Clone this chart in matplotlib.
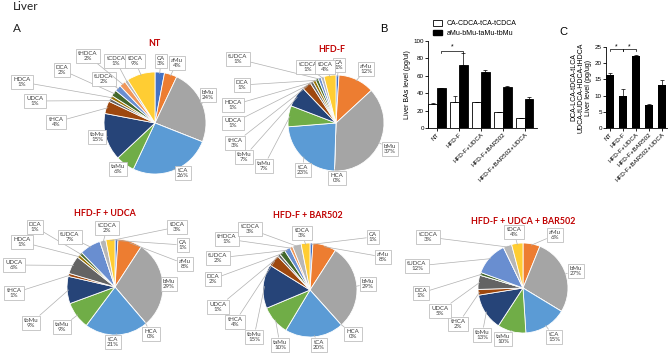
import numpy as np
import matplotlib
matplotlib.use('Agg')
import matplotlib.pyplot as plt
from matplotlib.patches import Patch

W, H = 669, 355

# bile acid species, in the order Excel draws the slices (clockwise from 12 o'clock)
species = ['CA', 'aMu', 'bMu', 'HCA', 'tCA', 'taMu', 'tbMu', 'tHCA', 'UDCA',
           'HDCA', 'DCA', 'tUDCA', 'tHDCA', 'tCDCA', 'tDCA']
species_colors = ['#4472C4', '#ED7D31', '#A5A5A5', '#FFC000', '#5B9BD5', '#70AD47',
                  '#264478', '#9E480E', '#636363', '#997300', '#43682B', '#698ED0',
                  '#F1975A', '#B7B7B7', '#FFCD33']

# % composition per group
nt_pct = [3, 4, 24, 0, 26, 6, 15, 4, 1, 1, 2, 2, 2, 1, 9]
hfd_pct = [1, 12, 37, 0, 23, 7, 7, 3, 1, 1, 1, 1, 0, 1, 4]
hfd_udca_pct = [1, 8, 29, 0, 21, 9, 9, 1, 6, 1, 1, 7, 0, 2, 3]
hfd_bar_pct = [1, 8, 29, 0, 20, 10, 15, 4, 1, 0, 2, 2, 1, 3, 3]
hfd_udca_bar_pct = [0, 6, 27, 0, 15, 10, 13, 2, 5, 0, 1, 12, 0, 3, 4]

# bar panels
groups = ['NT', 'HFD-F', 'HFD-F+UDCA', 'HFD-F+BAR502', 'HFD-F+BAR502+UDCA']
primary = [28, 29.5, 29.5, 18.5, 11]
primary_err = [0.8, 7.5, 0.8, 0.4, 0.6]
muricholic = [45.5, 72, 64.5, 47.5, 33.5]
muricholic_err = [1.0, 14, 2.0, 1.3, 2.5]
secondary = [16.3, 10, 22.2, 7.2, 13.3]
secondary_err = [0.6, 2.0, 0.3, 0.15, 1.5]

PIE_FONT = 'Lato'
BAR_FONT = 'Liberation Sans'

fig = plt.figure(figsize=(W / 100, H / 100), dpi=100)
ov = fig.add_axes([0, 0, 1, 1])


def py(y):
    return H - y


# label box centres in pixels, per pie
pies = [
    ('NT', nt_pct, (155, 123, 51), (154, 43), {
        'CA': (161, 61), 'aMu': (177, 63), 'bMu': (208, 95), 'tCA': (183, 173),
        'taMu': (118, 169), 'tbMu': (97, 137), 'tHCA': (56, 122), 'UDCA': (35, 101),
        'HDCA': (22, 82), 'DCA': (62, 70), 'tUDCA': (104, 79), 'tHDCA': (88, 56),
        'tCDCA': (116, 61), 'tDCA': (135, 61)}),
    ('HFD-F', hfd_pct, (336, 123, 48), (332, 50), {
        'CA': (339, 65), 'aMu': (366, 69), 'bMu': (390, 149), 'HCA': (337, 178),
        'tCA': (303, 170), 'taMu': (264, 166), 'tbMu': (244, 157), 'tHCA': (235, 143),
        'UDCA': (233, 123), 'HDCA': (233, 105), 'DCA': (242, 85), 'tUDCA': (238, 59),
        'tCDCA': (308, 67), 'tDCA': (325, 67)}),
    ('HFD-F + UDCA', hfd_udca_pct, (115, 287, 48), (105, 213), {
        'DCA': (35, 227), 'HDCA': (22, 242), 'tUDCA': (70, 237), 'tCDCA': (107, 228),
        'tDCA': (177, 227), 'CA': (183, 245), 'aMu': (185, 264), 'bMu': (169, 284),
        'HCA': (151, 334), 'tCA': (113, 342), 'taMu': (62, 327), 'tbMu': (31, 323),
        'tHCA': (14, 293), 'UDCA': (14, 265)}),
    ('HFD-F + BAR502', hfd_bar_pct, (310, 290, 47), (308, 216), {
        'tCDCA': (250, 229), 'tHDCA': (227, 239), 'tUDCA': (218, 258), 'DCA': (213, 279),
        'UDCA': (218, 307), 'tHCA': (235, 322), 'tbMu': (254, 337), 'taMu': (280, 345),
        'tDCA': (302, 233), 'CA': (373, 237), 'aMu': (383, 257), 'bMu': (368, 284),
        'HCA': (353, 334), 'tCA': (319, 345)}),
    ('HFD-F + UDCA + BAR502', hfd_udca_bar_pct, (523, 288, 45), (523, 221), {
        'tCDCA': (428, 237), 'tUDCA': (417, 266), 'DCA': (421, 293), 'UDCA': (440, 311),
        'tHCA': (458, 324), 'tbMu': (482, 335), 'taMu': (503, 339), 'tCA': (554, 337),
        'bMu': (576, 271), 'aMu': (555, 235), 'tDCA': (514, 232)}),
]

for title, pct, (cx, cy, r), (tx, ty), label_pos in pies:
    vals = np.array(pct, dtype=float)
    ov.pie(vals, colors=species_colors, startangle=90, counterclock=False,
           center=(cx, py(cy)), radius=r, frame=True,
           wedgeprops=dict(edgecolor='white', linewidth=0.6))
    ov.text(tx, py(ty), title, ha='center', va='center', color='#C00000',
            fontsize=6.4, fontweight='bold', family=PIE_FONT)

    # mid angle of each slice, Excel style (clockwise from top)
    frac = vals / vals.sum()
    edges = np.concatenate([[0], np.cumsum(frac)])
    mids = (edges[:-1] + edges[1:]) / 2
    for i, name in enumerate(species):
        if name not in label_pos:
            continue
        ang = np.pi / 2 - 2 * np.pi * mids[i]
        ex = cx + r * 0.97 * np.cos(ang)
        ey = py(cy) + r * 0.97 * np.sin(ang)
        lx, ly = label_pos[name]
        ov.annotate(f'{name}\n{pct[i]:g}%', xy=(ex, ey), xytext=(lx, py(ly)),
                    ha='center', va='center', fontsize=4.4, color='#404040',
                    family=PIE_FONT, linespacing=1.15,
                    bbox=dict(boxstyle='square,pad=0.35', fc='white', ec='#BFBFBF', lw=0.6),
                    arrowprops=dict(arrowstyle='-', color='#B0B0B0', lw=0.5,
                                    shrinkA=0, shrinkB=0))

ov.set_xlim(0, W)
ov.set_ylim(0, H)
ov.set_aspect('auto')
ov.axis('off')

ov.text(13, py(6), 'Liver', ha='left', va='center', fontsize=8.5, family=PIE_FONT, color='#222222')
ov.text(13, py(29), 'A', ha='left', va='center', fontsize=8.5, family=PIE_FONT, color='#222222')
ov.text(380, py(29), 'B', ha='left', va='center', fontsize=8, family=BAR_FONT)
ov.text(559, py(32), 'C', ha='left', va='center', fontsize=8, family=BAR_FONT)


def style_axes(ax):
    for s in ['top', 'right']:
        ax.spines[s].set_visible(False)
    for s in ['left', 'bottom']:
        ax.spines[s].set_linewidth(0.6)
    ax.tick_params(width=0.6, length=2, labelsize=4.5, pad=1)
    for lab in ax.get_xticklabels() + ax.get_yticklabels():
        lab.set_family(BAR_FONT)


def bracket(ax, x0, x1, y, h):
    ax.plot([x0, x0, x1, x1], [y - h, y, y, y - h], color='black', lw=0.5, clip_on=False)


# panel B
ax_b = fig.add_axes([428 / W, (H - 128) / H, 109 / W, 87 / H])
x = np.arange(len(groups))
bw = 0.39
ax_b.bar(x - bw / 2, primary, bw, color='white', edgecolor='black', lw=0.6)
ax_b.bar(x + bw / 2, muricholic, bw, color='black', edgecolor='black', lw=0.6)
ax_b.errorbar(x - bw / 2, primary, yerr=[np.zeros(5), primary_err], fmt='none',
              ecolor='black', elinewidth=0.5, capsize=1.2, capthick=0.5)
ax_b.errorbar(x + bw / 2, muricholic, yerr=[np.zeros(5), muricholic_err], fmt='none',
              ecolor='black', elinewidth=0.5, capsize=1.2, capthick=0.5)
ax_b.set_xlim(-0.41, 4.55)
ax_b.set_ylim(0, 100)
ax_b.set_yticks([0, 20, 40, 60, 80, 100])
ax_b.set_xticks(x)
ax_b.set_xticklabels(groups, rotation=45, ha='right', rotation_mode='anchor')
ax_b.set_ylabel('Liver BAs level (pg/ul)', fontsize=5, family=BAR_FONT, labelpad=2)
bracket(ax_b, 0.2, 1.2, 88.5, 2)
ax_b.text(0.7, 89, '*', ha='center', va='bottom', fontsize=5, family=BAR_FONT)
ax_b.legend([Patch(fc='white', ec='black', lw=0.6), Patch(fc='black', ec='black')],
            ['CA-CDCA-tCA-tCDCA', 'aMu-bMu-taMu-tbMu'],
            loc='lower left', bbox_to_anchor=(0.05, 1.05), frameon=False,
            prop={'family': BAR_FONT, 'size': 5}, handlelength=1.3, handleheight=0.8,
            borderpad=0, borderaxespad=0, labelspacing=0.3, handletextpad=0.6)
style_axes(ax_b)

# panel C
ax_c = fig.add_axes([606 / W, (H - 128) / H, 61 / W, 81 / H])
ax_c.bar(x, secondary, 0.6, color='black')
ax_c.errorbar(x, secondary, yerr=[np.zeros(5), secondary_err], fmt='none',
              ecolor='black', elinewidth=0.5, capsize=1.2, capthick=0.5)
ax_c.set_xlim(-0.3, 4.4)
ax_c.set_ylim(0, 25)
ax_c.set_yticks([0, 5, 10, 15, 20, 25])
ax_c.set_xticks(x)
ax_c.set_xticklabels(groups, rotation=45, ha='right', rotation_mode='anchor')
ax_c.set_ylabel('DCA-LCA-tDCA-tLCA\nUDCA-tUDCA-HDCA-tHDCA\nLiver level (pg/ug)',
                fontsize=5, family=BAR_FONT, labelpad=2, linespacing=1.1)
bracket(ax_c, 0, 1, 24.3, 0.5)
bracket(ax_c, 1, 2, 24.3, 0.5)
ax_c.text(0.5, 24.0, '*', ha='center', va='bottom', fontsize=5, family=BAR_FONT)
ax_c.text(1.5, 24.0, '*', ha='center', va='bottom', fontsize=5, family=BAR_FONT)
style_axes(ax_c)

fig.savefig('out.png', dpi=100)
